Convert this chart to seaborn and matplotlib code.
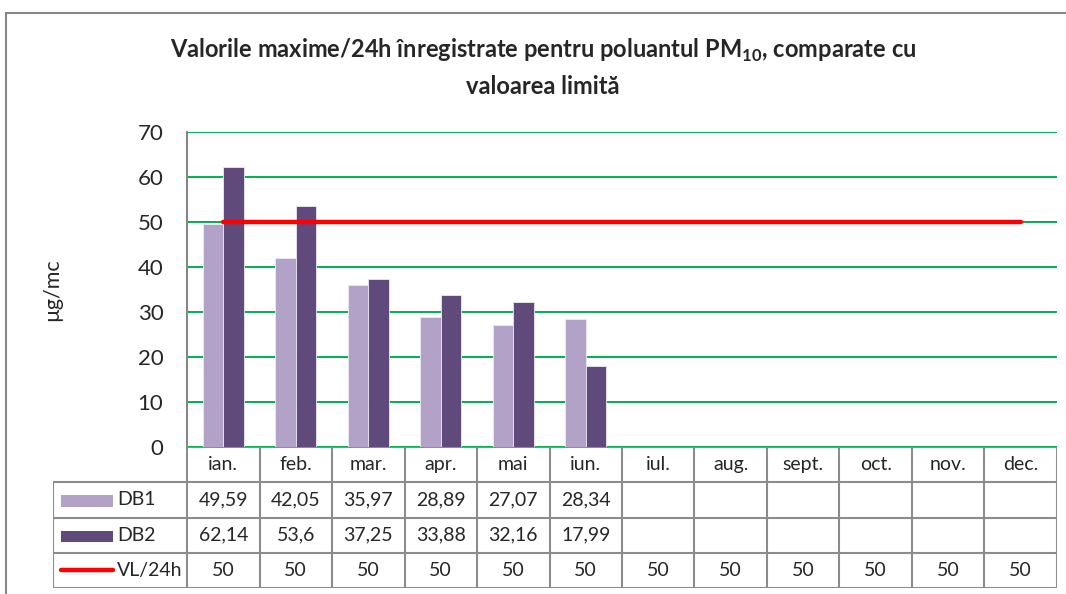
import numpy as np
import pandas as pd
import matplotlib
matplotlib.use("Agg")
import matplotlib.pyplot as plt
import seaborn as sns
from matplotlib.patches import Rectangle

# Data
months = ['ian.', 'feb.', 'mar.', 'apr.', 'mai', 'iun.', 'iul.', 'aug.', 'sept.', 'oct.', 'nov.', 'dec.']
db1 = [49.59, 42.05, 35.97, 28.89, 27.07, 28.34, np.nan, np.nan, np.nan, np.nan, np.nan, np.nan]
db2 = [62.14, 53.6, 37.25, 33.88, 32.16, 17.99, np.nan, np.nan, np.nan, np.nan, np.nan, np.nan]
vl_24h = [50, 50, 50, 50, 50, 50, 50, 50, 50, 50, 50, 50]
series_names = ['DB1', 'DB2', 'VL/24h']
col_db1 = '#B3A2C7'
col_db2 = '#604A7B'
col_vl = '#FF0000'

df = pd.DataFrame({
    'luna': months * 2,
    'serie': ['DB1'] * 12 + ['DB2'] * 12,
    'valoare': db1 + db2,
})

sns.set_theme(style="white")
plt.rcParams['font.family'] = ['Lato', 'DejaVu Sans']
plt.rcParams['mathtext.fontset'] = 'custom'
plt.rcParams['mathtext.rm'] = 'Lato'
plt.rcParams['mathtext.bf'] = 'Lato:bold'

W, H = 1066, 594
fig = plt.figure(figsize=(W / 100, H / 100), dpi=100)
fig.patch.set_facecolor('white')

# outer chart border
fig.add_artist(Rectangle((6 / W, -0.1), 1.2, (H - 13) / H + 0.1, transform=fig.transFigure,
                         fill=False, ec='#868686', lw=1.5))

# plot area in pixels: x 187..1057, y 132..447
px_l, px_r, px_t, px_b = 187, 1057, 132, 447
ax = fig.add_axes([px_l / W, (H - px_b) / H, (px_r - px_l) / W, (px_b - px_t) / H])

sns.barplot(data=df, x='luna', y='valoare', hue='serie', order=months,
            palette=[col_db1, col_db2], width=0.565, saturation=1,
            errorbar=None, legend=False, ax=ax, edgecolor='#EDEAF2', linewidth=0.6)
sns.lineplot(x=np.arange(len(months)), y=vl_24h, color=col_vl, lw=3.2, ax=ax)

ax.set_xlim(-0.5, len(months) - 0.5)
ax.set_ylim(0, 70)
ax.set_yticks(range(0, 71, 10))
ax.yaxis.grid(True, color='#00B050', lw=1.4)
ax.set_axisbelow(True)
ax.set_xticks([])
ax.set_xlabel('')
ax.set_ylabel('µg/mc', fontsize=15.5)
ax.yaxis.set_label_coords((62 - px_l) / (px_r - px_l), 0.5)
ax.tick_params(axis='y', length=0, pad=17, labelsize=16)
for s in ['top', 'right', 'bottom']:
    ax.spines[s].set_visible(False)
ax.spines['left'].set_color('#868686')
ax.spines['left'].set_linewidth(1.5)

# title
fig.text(543 / W, 1 - 50 / H, r'Valorile maxime/24h înregistrate pentru poluantul PM$_{\mathbf{10}}$, comparate cu',
         ha='center', va='center', fontsize=17, fontweight='bold')
fig.text(543 / W, 1 - 86 / H, 'valoarea limită', ha='center', va='center', fontsize=17, fontweight='bold')

# data table
unit = (px_r - px_l) / len(months)
tb_l, tb_t, tb_b = 53, 447, 588
x_left = -0.5 - (px_l - tb_l) / unit
tax = fig.add_axes([tb_l / W, (H - tb_b) / H, (px_r - tb_l) / W, (tb_b - tb_t) / H])
tax.set_xlim(x_left, len(months) - 0.5)
tax.set_ylim(0, 4)
tax.axis('off')
gc = '#8C8C8C'
glw = 1.5
n = len(months)
for k in range(n + 1):
    tax.plot([k - 0.5, k - 0.5], [0, 4], color=gc, lw=glw, solid_capstyle='projecting')
tax.plot([x_left, x_left], [0, 3], color=gc, lw=glw, solid_capstyle='projecting')
for yy in [0, 1, 2, 3]:
    tax.plot([x_left, n - 0.5], [yy, yy], color=gc, lw=glw, solid_capstyle='projecting')
tax.plot([-0.5, n - 0.5], [4, 4], color=gc, lw=glw)

fs = 14
for i, m in enumerate(months):
    tax.text(i, 3.5, m, ha='center', va='center', fontsize=fs)


def fmt(v):
    if v is None or (isinstance(v, float) and np.isnan(v)):
        return ''
    return f'{v:g}'.replace('.', ',')


rows = [(db1, 2.5), (db2, 1.5), (vl_24h, 0.5)]
for vals, yc in rows:
    for i, v in enumerate(vals):
        tax.text(i, yc, fmt(v), ha='center', va='center', fontsize=fs)

# legend keys inside the table
key_x0 = -0.5 + (61 - px_l) / unit
key_x1 = -0.5 + (113 - px_l) / unit
txt_x = -0.5 + (117 - px_l) / unit
tax.add_patch(Rectangle((key_x0, 2.31), key_x1 - key_x0, 0.32, color=col_db1, lw=0))
tax.add_patch(Rectangle((key_x0, 1.31), key_x1 - key_x0, 0.32, color=col_db2, lw=0))
tax.plot([key_x0, key_x1], [0.5, 0.5], color=col_vl, lw=3.2, solid_capstyle='round')
for name, yc in zip(series_names, [2.5, 1.5, 0.5]):
    tax.text(txt_x, yc, name, ha='left', va='center', fontsize=fs)

fig.savefig('out.png', dpi=100)
